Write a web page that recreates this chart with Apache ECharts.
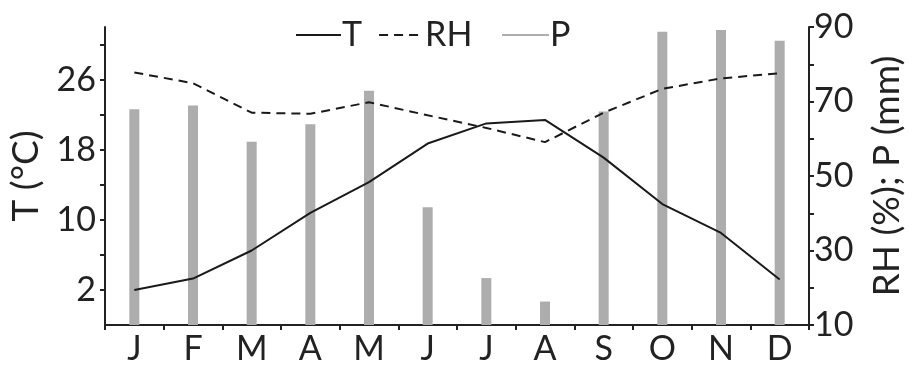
<!DOCTYPE html>
<html>
<head>
<meta charset="utf-8">
<script src="https://cdn.jsdelivr.net/npm/echarts@6/dist/echarts.min.js"></script>
<style>
html,body{margin:0;padding:0;background:#fff;}
#chart{width:914px;height:366px;}
</style>
</head>
<body>
<div id="chart"></div>
<script>
const months = ['J','F','M','A','M','J','J','A','S','O','N','D'];
const tempC = [2.0, 3.3, 6.5, 10.8, 14.3, 18.7, 21.0, 21.4, 17.1, 11.8, 8.5, 3.2];
const relHum = [77.8, 74.9, 67.0, 66.7, 69.8, 66.3, 62.9, 59.1, 67.0, 73.4, 76.2, 77.6];
const precip = [67.9, 68.9, 59.2, 63.9, 72.9, 41.6, 22.6, 16.3, 67.3, 88.7, 89.2, 86.3];
const leftTickLabels = [2, 10, 18, 26];
const leftTicks = [2, 6, 10, 14, 18, 22, 26, 30];
const rightTickLabels = [10, 30, 50, 70, 90];

const FONT = 'Lato, "Open Sans", sans-serif';
const TXT = '#222';
const chart = echarts.init(document.getElementById('chart'), null, {renderer: 'canvas'});
chart.setOption({
  animation: false,
  backgroundColor: '#fff',
  textStyle: {fontFamily: FONT},
  grid: {left: 101, right: 93, top: 27, bottom: 35, containLabel: false},
  legend: [
    {
      data: ['T', 'RH'],
      left: 290, top: 13,
      itemWidth: 45, itemHeight: 14, itemGap: 16,
      itemStyle: {color: 'rgba(0,0,0,0)', borderColor: 'rgba(0,0,0,0)', borderWidth: 0, opacity: 0},
      textStyle: {fontFamily: FONT, fontSize: 34, color: TXT, padding: [0,0,0,-4]},
      selectedMode: false
    },
    {
      data: [{name: 'P', icon: 'rect'}],
      left: 497, top: 13,
      itemWidth: 47, itemHeight: 2,
      textStyle: {fontFamily: FONT, fontSize: 34, color: TXT, padding: [0,0,0,-4]},
      selectedMode: false
    }
  ],
  xAxis: {
    type: 'category',
    data: months,
    boundaryGap: true,
    axisLine: {show: true, onZero: false, lineStyle: {color: TXT, width: 2}},
    axisTick: {show: true, inside: false, length: 5, lineStyle: {color: TXT, width: 2}},
    axisLabel: {fontFamily: FONT, fontSize: 34, color: TXT, margin: 7},
    splitLine: {show: false}
  },
  yAxis: [
    {
      type: 'value',
      min: -2, max: 32,
      name: 'T (°C)',
      nameLocation: 'middle',
      nameRotate: 90,
      nameGap: 60,
      nameTextStyle: {fontFamily: FONT, fontSize: 37, color: TXT},
      axisLine: {show: true, lineStyle: {color: TXT, width: 2}},
      axisTick: {show: true, inside: false, length: 5, customValues: leftTicks, lineStyle: {color: TXT, width: 2}},
      axisLabel: {fontFamily: FONT, fontSize: 34, color: TXT, margin: 9, customValues: leftTickLabels},
      splitLine: {show: false}
    },
    {
      type: 'value',
      min: 10, max: 90, interval: 10,
      position: 'right',
      name: 'RH (%); P (mm)',
      nameLocation: 'middle',
      nameRotate: 90,
      nameGap: 60,
      nameTextStyle: {fontFamily: FONT, fontSize: 37, color: TXT},
      axisLine: {show: true, lineStyle: {color: TXT, width: 2}},
      axisTick: {show: true, inside: false, length: 5, lineStyle: {color: TXT, width: 2}},
      axisLabel: {fontFamily: FONT, fontSize: 34, color: TXT, margin: 5, customValues: rightTickLabels},
      splitLine: {show: false}
    }
  ],
  series: [
    {
      name: 'P', type: 'bar', yAxisIndex: 1, data: precip,
      barWidth: 10,
      itemStyle: {color: '#adadad'},
      z: 1
    },
    {
      name: 'T', type: 'line', yAxisIndex: 0, data: tempC,
      symbol: 'none',
      lineStyle: {color: '#1a1a1a', width: 2},
      itemStyle: {color: '#1a1a1a'},
      z: 3
    },
    {
      name: 'RH', type: 'line', yAxisIndex: 1, data: relHum,
      symbol: 'none',
      lineStyle: {color: '#1a1a1a', width: 2, type: [9, 6]},
      itemStyle: {color: '#1a1a1a'},
      z: 3
    }
  ]
});
</script>
</body>
</html>
